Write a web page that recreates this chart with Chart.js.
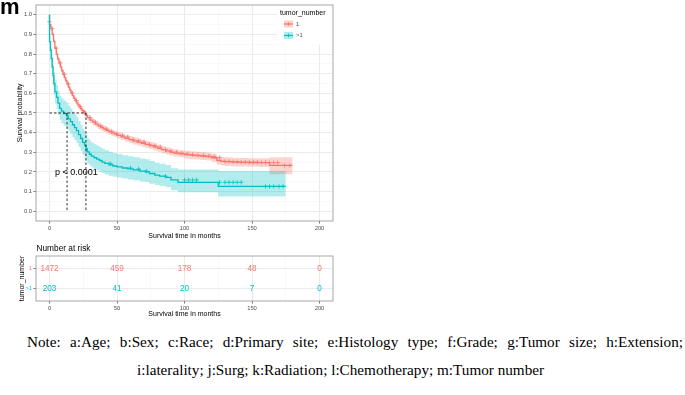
<!DOCTYPE html>
<html><head><meta charset="utf-8">
<script src="https://cdn.jsdelivr.net/npm/chart.js@4"></script>
<style>
html,body{margin:0;padding:0;background:#fff;width:685px;height:395px;overflow:hidden;position:relative;}
#main{position:absolute;left:0;top:0;}
#risk{position:absolute;left:0;top:242px;}
#tag{position:absolute;left:0;top:-4px;font:bold 22px/22px "Liberation Sans",Arial,sans-serif;color:#000;}
.note{position:absolute;font-family:"Liberation Serif","Times New Roman",serif;font-size:15.2px;line-height:15px;white-space:nowrap;color:#000;}
</style></head><body>
<canvas id="main" width="345" height="242"></canvas>
<canvas id="risk" width="345" height="80"></canvas>
<div id="tag">m</div>
<div class="note" id="n1" style="left:27px;top:334px;word-spacing:5.5px">Note: a:Age; b:Sex; c:Race; d:Primary site; e:Histology type; f:Grade; g:Tumor size; h:Extension;</div>
<div class="note" id="n2" style="left:137px;top:362px">i:laterality; j:Surg; k:Radiation; l:Chemotherapy; m:Tumor number</div>
<script>
// ---------------- data ----------------
const groups = ['1', '>1'];
const legendTitle = 'tumor_number';

const redTime  = [0,0,1,2,3,4,5,6,7,8,9,10,11,12,13,14,15,16,17,18,19,20,21,22,23,24,25,26,27,28,30,32,34,36,38,40,42,44,46,48,50,53,56,59,62,65,68,71,74,77,80,83,86,89,92,96,100,104,108,112,116,120,124,127,130,135,140,147,155,163,172,180];
const redSurv  = [1,.965,.95,.93,.9,.865,.83,.8,.775,.755,.735,.715,.697,.68,.664,.648,.632,.616,.601,.588,.575,.563,.552,.541,.531,.522,.513,.505,.497,.489,.476,.464,.453,.443,.434,.426,.419,.412,.405,.399,.394,.386,.378,.371,.364,.358,.352,.346,.34,.334,.327,.32,.313,.307,.301,.296,.292,.288,.285,.283,.281,.278,.272,.258,.254,.252,.25,.249,.248,.247,.233,.233];
const redUpper = [1,.975,.962,.942,.912,.877,.842,.812,.787,.767,.747,.727,.711,.694,.678,.662,.646,.63,.615,.602,.589,.577,.566,.555,.545,.536,.527,.519,.511,.503,.49,.48,.469,.459,.45,.442,.435,.428,.421,.415,.41,.402,.394,.387,.382,.376,.37,.364,.358,.352,.345,.338,.331,.325,.319,.314,.31,.308,.305,.303,.301,.298,.292,.28,.276,.274,.272,.271,.27,.269,.274,.274];
const redLower = [1,.955,.938,.918,.888,.853,.818,.788,.763,.743,.723,.703,.683,.666,.65,.634,.618,.602,.587,.574,.561,.549,.538,.527,.517,.508,.499,.491,.483,.475,.462,.448,.437,.427,.418,.41,.403,.396,.389,.383,.378,.37,.362,.355,.346,.34,.334,.328,.322,.316,.309,.302,.295,.289,.283,.278,.274,.268,.265,.263,.261,.258,.252,.236,.232,.23,.228,.227,.226,.225,.188,.188];

const cyanTime  = [0,0.7,1.3,2,2.6,3.2,4,5.2,6.3,7.5,8.9,10.5,12.6,14,15.5,17,18.5,20,21.5,23,24.5,26,27,28,29.5,31,33,35,37,39,41,44,47,50,54,58,62,67,71,74,78,81.5,86,90,95.2,125,157,175];
const cyanSurv  = [1,.862,.82,.777,.735,.692,.65,.608,.58,.55,.524,.51,.497,.485,.47,.456,.44,.425,.41,.39,.37,.35,.335,.318,.302,.29,.28,.272,.265,.258,.25,.243,.236,.23,.226,.22,.215,.21,.204,.2,.192,.184,.178,.172,.159,.147,.126,.126];
const cyanUpper = [1,.905,.868,.828,.788,.748,.708,.668,.642,.613,.588,.575,.563,.551,.537,.523,.508,.493,.479,.459,.44,.42,.405,.388,.372,.36,.349,.341,.333,.326,.318,.31,.302,.296,.291,.285,.28,.275,.268,.264,.256,.247,.241,.235,.218,.212,.205,.205];
const cyanLower = [1,.815,.77,.725,.68,.635,.592,.55,.52,.49,.463,.448,.435,.422,.407,.393,.377,.362,.347,.327,.308,.288,.273,.257,.243,.232,.222,.214,.208,.201,.194,.187,.18,.175,.171,.166,.161,.157,.151,.148,.14,.133,.128,.122,.107,.097,.075,.075];

const redCensor  = [0,2,5,8,11,14,17,20,23,26,30,34,38,42,46,50,54,58,62,66,70,74,78,82,86,90,94,98,102,106,110,114,118,122,126,130,133,136,139,142,145,148,151,154,157,160,163,166,169,174,178];
const cyanCensor = [45,60,66,72,86,100,103,106,109,126,130,133,136,139,142,160,163,166,170,173];

const medians = [27, 13];
const pLabel = 'p < 0.0001';
const pPos = [4, 0.195];

const riskTimes = [0, 50, 100, 150, 200];
const riskRed   = [1472, 459, 178, 48, 0];
const riskCyan  = [203, 41, 20, 7, 0];

const xMajor = [0, 50, 100, 150, 200];
const xMinor = [25, 75, 125, 175];
const yMajor = [0, 0.1, 0.2, 0.3, 0.4, 0.5, 0.6, 0.7, 0.8, 0.9, 1.0];
const yMinor = [0.05, 0.15, 0.25, 0.35, 0.45, 0.55, 0.65, 0.75, 0.85, 0.95];

// ---------------- styles ----------------
const FONT = '"Liberation Sans", Arial, sans-serif';
const RED = '#F8766D', CYAN = '#00BFC4';
const RED_BAND = 'rgba(248,118,109,0.32)', CYAN_BAND = 'rgba(0,191,196,0.30)';
const GRID_MAJOR = '#ebebeb', GRID_MINOR = '#f5f5f5';
const TICK_COL = '#4d4d4d';

const pts = (T, S) => T.map((t, i) => ({x: t, y: S[i]}));
const stepAt = (T, S, t) => { let s = S[0]; for (let i = 0; i < T.length; i++) if (T[i] <= t) s = S[i]; return s; };
const censorPts = (C, T, S) => C.map(t => ({x: t, y: stepAt(T, S, t)}));
const isMajorX = v => xMajor.includes(v);
const isMajorY = v => yMajor.some(m => Math.abs(m - v) < 1e-9);

function xScaleCfg(h) {
  return {
    type: 'linear', min: -10, max: 210,
    afterBuildTicks: s => { s.ticks = xMajor.concat(xMinor).sort((a, b) => a - b).map(v => ({value: v})); },
    afterFit: s => { s.height = h; },
    ticks: { autoSkip: false, maxRotation: 0, padding: 1.2, color: TICK_COL,
      font: {size: 5.8, family: FONT}, callback: v => isMajorX(v) ? String(v) : '' },
    grid: { color: c => isMajorX(c.tick.value) ? GRID_MAJOR : GRID_MINOR,
      lineWidth: c => isMajorX(c.tick.value) ? 1 : 0.6,
      tickLength: 2.5, tickColor: c => isMajorX(c.tick.value) ? '#555' : 'rgba(0,0,0,0)', tickWidth: 0.8 },
    border: {display: false}
  };
}

function rectBorder(chart) {
  const {ctx, chartArea: a} = chart;
  ctx.save(); ctx.strokeStyle = '#9e9e9e'; ctx.lineWidth = 0.9;
  ctx.strokeRect(a.left, a.top, a.right - a.left, a.bottom - a.top);
  ctx.restore();
}

function drawPlus(ctx, x, y, r, col) {
  ctx.strokeStyle = col; ctx.lineWidth = 0.8;
  ctx.beginPath(); ctx.moveTo(x - r, y); ctx.lineTo(x + r, y); ctx.moveTo(x, y - r); ctx.lineTo(x, y + r); ctx.stroke();
}

const mainPlugin = {
  id: 'mainDeco',
  afterDatasetsDraw(chart) {
    const {ctx, chartArea: a, scales: {x, y}} = chart;
    ctx.save();
    // median lines
    ctx.strokeStyle = '#000'; ctx.lineWidth = 0.8; ctx.setLineDash([2.5, 2]);
    const mMax = Math.max(...medians);
    ctx.beginPath();
    ctx.moveTo(x.getPixelForValue(0), y.getPixelForValue(0.5));
    ctx.lineTo(x.getPixelForValue(mMax), y.getPixelForValue(0.5));
    medians.forEach(m => {
      ctx.moveTo(x.getPixelForValue(m), y.getPixelForValue(0.5));
      ctx.lineTo(x.getPixelForValue(m), y.getPixelForValue(0));
    });
    ctx.stroke(); ctx.setLineDash([]);
    // p-value
    ctx.fillStyle = '#000'; ctx.font = '9px ' + FONT; ctx.textAlign = 'left'; ctx.textBaseline = 'middle';
    ctx.fillText(pLabel, x.getPixelForValue(pPos[0]), y.getPixelForValue(pPos[1]));
    // legend
    ctx.fillStyle = '#fff'; ctx.fillRect(277, a.top + 0.5, a.right - 277, 39);
    ctx.fillStyle = '#000'; ctx.font = '7px ' + FONT; ctx.textAlign = 'left'; ctx.textBaseline = 'middle';
    ctx.fillText(legendTitle, 280, 13);
    [[RED, RED_BAND, groups[0], 24], [CYAN, CYAN_BAND, groups[1], 35.5]].forEach(([c, b, lab, yy]) => {
      ctx.fillStyle = b; ctx.fillRect(284, yy - 3.5, 9, 7);
      ctx.strokeStyle = c; ctx.lineWidth = 1.2;
      ctx.beginPath(); ctx.moveTo(284, yy); ctx.lineTo(293, yy); ctx.stroke();
      drawPlus(ctx, 288.5, yy, 2, c);
      ctx.fillStyle = TICK_COL; ctx.font = '5.8px ' + FONT;
      ctx.fillText(lab, 296, yy + 0.3);
    });
    ctx.restore();
    rectBorder(chart);
  },
  afterDraw(chart) {
    const {ctx, chartArea: a} = chart;
    ctx.save(); ctx.fillStyle = '#000'; ctx.font = '7px ' + FONT;
    ctx.textAlign = 'center'; ctx.textBaseline = 'middle';
    ctx.fillText('Survival time in months', (a.left + a.right) / 2, 236);
    ctx.translate(20, (a.top + a.bottom) / 2); ctx.rotate(-Math.PI / 2);
    ctx.fillText('Survival probability', 0, 0);
    ctx.restore();
  }
};

const lineDs = (data, color, order) => ({data, borderColor: color, borderWidth: 1.3, pointRadius: 0, stepped: 'after', fill: false, order});
const bandDs = (data, fill, color, order) => ({data, borderWidth: 0, borderColor: 'rgba(0,0,0,0)', pointRadius: 0, stepped: 'after', fill, backgroundColor: color, order});
const censDs = (data, color, order) => ({data, showLine: false, pointStyle: 'cross', pointRadius: 2.2, pointBorderWidth: 0.8, borderColor: color, pointBorderColor: color, backgroundColor: color, order});

new Chart(document.getElementById('main'), {
  type: 'line',
  data: { datasets: [
    bandDs(pts(redTime, redUpper), '+1', RED_BAND, 4),
    bandDs(pts(redTime, redLower), false, RED_BAND, 4),
    bandDs(pts(cyanTime, cyanUpper), '+1', CYAN_BAND, 3),
    bandDs(pts(cyanTime, cyanLower), false, CYAN_BAND, 3),
    lineDs(pts(redTime, redSurv), RED, 2),
    censDs(censorPts(redCensor, redTime, redSurv), RED, 2),
    lineDs(pts(cyanTime, cyanSurv), CYAN, 1),
    censDs(censorPts(cyanCensor, cyanTime, cyanSurv), CYAN, 1)
  ]},
  options: {
    responsive: false, animation: false, events: [], devicePixelRatio: 1,
    layout: {padding: {left: 0, top: 4, right: 12, bottom: 0}},
    plugins: {legend: {display: false}, tooltip: {enabled: false}},
    scales: {
      x: xScaleCfg(21),
      y: {
        type: 'linear', min: -0.05, max: 1.05,
        afterBuildTicks: s => { s.ticks = yMajor.concat(yMinor).sort((a, b) => a - b).map(v => ({value: v})); },
        afterFit: s => { s.width = 36; },
        ticks: { autoSkip: false, padding: 1.5, color: TICK_COL, font: {size: 5.8, family: FONT},
          callback: v => isMajorY(v) ? v.toFixed(1) : '' },
        grid: { color: c => isMajorY(c.tick.value) ? GRID_MAJOR : GRID_MINOR,
          lineWidth: c => isMajorY(c.tick.value) ? 1 : 0.6,
          tickLength: 2.5, tickColor: c => isMajorY(c.tick.value) ? '#555' : 'rgba(0,0,0,0)', tickWidth: 0.8 },
        border: {display: false}
      }
    }
  },
  plugins: [mainPlugin]
});

// ---------------- risk table ----------------
const riskPlugin = {
  id: 'riskDeco',
  afterDatasetsDraw(chart) {
    const {ctx, scales: {x, y}} = chart;
    ctx.save(); ctx.font = '8.2px ' + FONT; ctx.textAlign = 'center'; ctx.textBaseline = 'middle';
    [[riskRed, RED, 1], [riskCyan, CYAN, 2]].forEach(([vals, c, row]) => {
      ctx.fillStyle = c;
      vals.forEach((v, i) => ctx.fillText(String(v), x.getPixelForValue(riskTimes[i]), y.getPixelForValue(row)));
    });
    ctx.restore();
    rectBorder(chart);
  },
  afterDraw(chart) {
    const {ctx, chartArea: a} = chart;
    ctx.save(); ctx.fillStyle = '#000';
    ctx.font = '8.3px ' + FONT; ctx.textAlign = 'left'; ctx.textBaseline = 'middle';
    ctx.fillText('Number at risk', 36.5, 6.5);
    ctx.font = '7px ' + FONT; ctx.textAlign = 'center';
    ctx.fillText('Survival time in months', (a.left + a.right) / 2, 72.3);
    ctx.translate(22, (a.top + a.bottom) / 2); ctx.rotate(-Math.PI / 2);
    ctx.fillText(legendTitle, 0, 0);
    ctx.restore();
  }
};

new Chart(document.getElementById('risk'), {
  type: 'line',
  data: { datasets: [
    {data: riskTimes.map(t => ({x: t, y: 1})), showLine: false, pointRadius: 0},
    {data: riskTimes.map(t => ({x: t, y: 2})), showLine: false, pointRadius: 0}
  ]},
  options: {
    responsive: false, animation: false, events: [], devicePixelRatio: 1,
    layout: {padding: {left: 0, top: 14, right: 12, bottom: 0}},
    plugins: {legend: {display: false}, tooltip: {enabled: false}},
    scales: {
      x: xScaleCfg(21),
      y: {
        type: 'linear', min: 0.4, max: 2.6, reverse: true,
        afterBuildTicks: s => { s.ticks = [{value: 1}, {value: 2}]; },
        afterFit: s => { s.width = 36; },
        ticks: { autoSkip: false, padding: 1.5, font: {size: 5.8, family: FONT},
          color: c => c.index === 0 ? RED : CYAN, callback: v => groups[v - 1] },
        grid: { color: GRID_MAJOR, lineWidth: 1, tickLength: 2.5, tickColor: '#555', tickWidth: 0.8 },
        border: {display: false}
      }
    }
  },
  plugins: [riskPlugin]
});
</script>
</body></html>
